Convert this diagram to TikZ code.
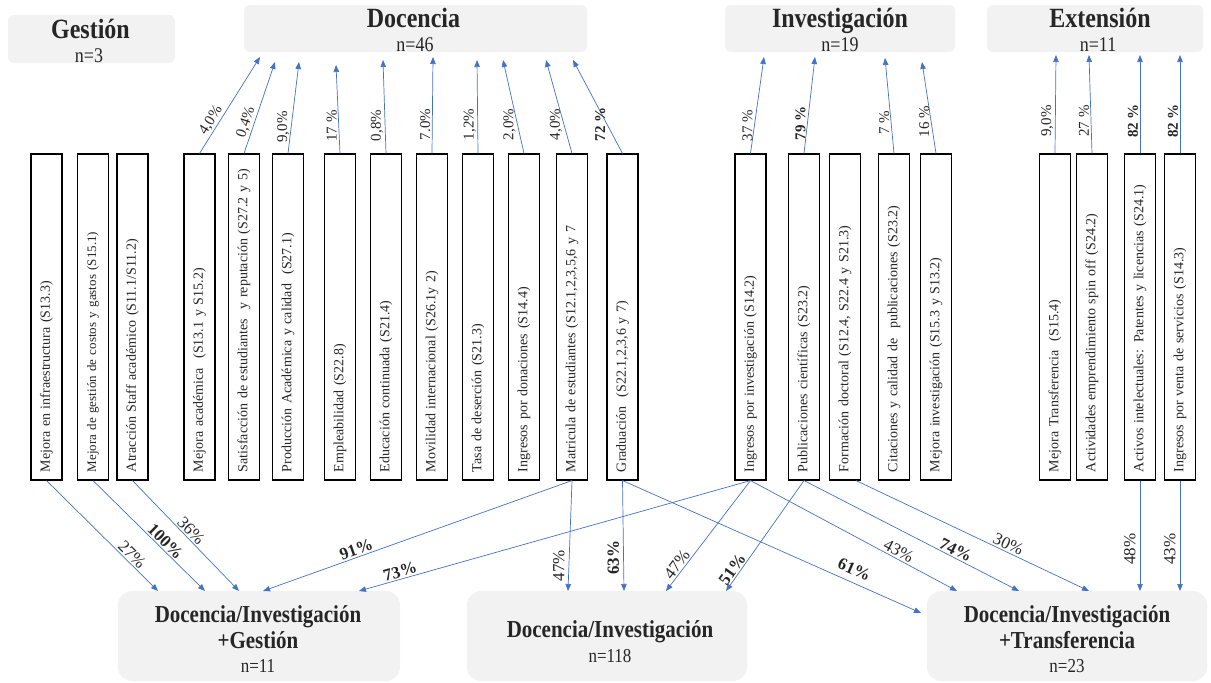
\documentclass[tikz,border=0pt]{standalone}
\usepackage{graphicx}
\usepackage{fontspec}
\setmainfont{Liberation Serif}
\usetikzlibrary{arrows.meta}
\definecolor{lnk}{HTML}{4472C4}
\definecolor{panel}{HTML}{F2F2F2}
\definecolor{ink}{HTML}{262626}
% taller lettering for the panel titles
\newcommand{\tall}[1]{\scalebox{1}[1.16]{#1}}

\begin{document}
\begin{tikzpicture}[x=1pt,y=-1pt,
  hdr/.style={fill=panel, rounded corners=6pt, inner sep=0pt},
  res/.style={fill=panel, rounded corners=14pt, inner sep=0pt, minimum width=280pt, minimum height=90pt},
  hdrtitle/.style={anchor=base, text=ink, font=\fontsize{24}{28}\selectfont\bfseries},
  hdrn/.style={anchor=base, text=ink, font=\fontsize{18}{20}\selectfont},
  restitle/.style={anchor=base, text=ink, font=\fontsize{21}{24}\selectfont\bfseries},
  resn/.style={anchor=base, text=ink, font=\fontsize{17}{20}\selectfont},
  ind/.style={draw=black, line width=1.1pt, rotate=90, minimum width=326pt, minimum height=31pt,
    inner sep=0pt, text width=310pt, align=left, text=ink, font=\fontsize{14}{16}\selectfont},
  arr/.style={draw=lnk, line width=0.7pt, -{Triangle[length=7pt,width=5.5pt]}},
  pctv/.style={font=\fontsize{15}{17}\selectfont, text=ink, rotate=90, anchor=south, inner sep=1.5pt},
  pcts/.style={font=\fontsize{15}{17}\selectfont, text=ink, sloped, above, inner sep=1.5pt},
  lows/.style={font=\fontsize{17}{19}\selectfont, text=ink, sloped, above, inner sep=1.5pt},
  lowv/.style={font=\fontsize{17}{19}\selectfont, text=ink, rotate=90, anchor=south, inner sep=4pt},
  hi/.style={font=\fontsize{17}{19}\selectfont\bfseries},
  hit/.style={font=\fontsize{15}{17}\selectfont\bfseries},
]
\useasboundingbox (0,0) rectangle (1211,683);

% ---- category panels (top) ----
\node[hdr, minimum width=167pt, minimum height=48pt] (gest) at (91.5,39) {};
\node[hdrtitle] (gestT) at (90.5,38) {\tall{Gestión}};
\node[hdrn] (gestN) at (89,62) {\tall{n=3}};

\node[hdr, minimum width=343pt, minimum height=47pt] (doc) at (415.5,28.5) {};
\node[hdrtitle] (docT) at (413.5,27) {\tall{Docencia}};
\node[hdrn] (docN) at (415,51) {\tall{n=46}};

\node[hdr, minimum width=230pt, minimum height=47pt] (inv) at (840,28.5) {};
\node[hdrtitle] (invT) at (840,27) {\tall{Investigación}};
\node[hdrn] (invN) at (840,51) {\tall{n=19}};

\node[hdr, minimum width=216pt, minimum height=47pt] (ext) at (1095,28.5) {};
\node[hdrtitle] (extT) at (1100,27) {\tall{Extensión}};
\node[hdrn] (extN) at (1098,51) {\tall{n=11}};

% ---- result panels (bottom) ----
\node[res, minimum width=282pt] (dg) at (259,636) {};
\node[restitle] (dgT1) at (258,622) {\tall{Docencia/Investigación}};
\node[restitle] (dgT2) at (258,648) {\tall{+Gestión}};
\node[resn] (dgN) at (258,672) {\tall{n=11}};

\node[res] (di) at (607,636) {};
\node[restitle] (diT) at (610,637) {\tall{Docencia/Investigación}};
\node[resn] (diN) at (610,662) {\tall{n=118}};

\node[res] (dt) at (1067,636) {};
\node[restitle] (dtT1) at (1067,622) {\tall{Docencia/Investigación}};
\node[restitle] (dtT2) at (1067,648) {\tall{+Transferencia}};
\node[resn] (dtN) at (1067,672) {\tall{n=23}};

% ---- indicator boxes ----
\node[ind] (b1) at (46.5,317) {Mejora en infraestructura (S13.3)};
\node[ind, font=\fontsize{13}{15}\selectfont] (b2) at (93,317) {Mejora de gestión de costos y gastos (S15.1)};
\node[ind] (b3) at (132.5,317) {Atracción Staff académico (S11.1/S11.2)};
\node[ind] (b4) at (199.5,317) {Mejora académica\ \ (S13.1 y S15.2)};
\node[ind] (b5) at (244,317) {Satisfacción de estudiantes\ \ y reputación (S27.2 y 5)};
\node[ind] (b6) at (288,317) {Producción Académica y calidad\ \ (S27.1)};
\node[ind] (b7) at (340,317) {Empleabilidad (S22.8)};
\node[ind] (b8) at (386,317) {Educación continuada (S21.4)};
\node[ind] (b9) at (432,317) {Movilidad internacional (S26.1y 2)};
\node[ind] (b10) at (478,317) {Tasa de deserción (S21.3)};
\node[ind] (b11) at (524,317) {Ingresos por donaciones (S14.4)};
\node[ind] (b12) at (572,317) {Matricula de estudiantes (S12.1,2,3,5,6 y 7};
\node[ind] (b13) at (622.5,317) {Graduación\ \ (S22.1,2,3,6 y 7)};
\node[ind] (b14) at (750.5,317) {Ingresos por investigación (S14.2)};
\node[ind] (b15) at (804,317) {Publicaciones científicas (S23.2)};
\node[ind] (b16) at (845,317) {Formación doctoral (S12.4, S22.4 y S21.3)};
\node[ind] (b17) at (894,317) {Citaciones y calidad de\ \ publicaciones (S23.2)};
\node[ind] (b18) at (936,317) {Mejora investigación (S15.3 y S13.2)};
\node[ind] (b19) at (1055,317) {Mejora Transferencia\ \ (S15.4)};
\node[ind] (b20) at (1092,317) {Actividades emprendimiento spin off (S24.2)};
\node[ind] (b21) at (1140,317) {Activos intelectuales: Patentes y licencias (S24.1)};
\node[ind] (b22) at (1180,317) {Ingresos por venta de servicios (S14.3)};

% ---- arrow ends under the category panels ----
\coordinate (t4) at (260,57);
\coordinate (t5) at (275,62);
\coordinate (t6) at (299,62);
\coordinate (t7) at (336,65);
\coordinate (t8) at (383,60);
\coordinate (t9) at (433,57);
\coordinate (t10) at (477,60);
\coordinate (t11) at (503,60);
\coordinate (t12) at (546,60);
\coordinate (t13) at (573,60);
\coordinate (t14) at (764,57);
\coordinate (t15) at (815,57);
\coordinate (t17) at (885,58);
\coordinate (t18) at (922,62);
\coordinate (t19) at (1056,55);
\coordinate (t20) at (1089,55);
\coordinate (t21) at (1140,55);
\coordinate (t22) at (1180,55);

% ---- arrow ends on the result panels ----
\coordinate (e1) at (158,591);
\coordinate (e2) at (205,591);
\coordinate (e3) at (239,591);
\coordinate (e4) at (263,591);
\coordinate (e5) at (359,591);
\coordinate (e6) at (568,591);
\coordinate (e7) at (624,591);
\coordinate (e8) at (666,591);
\coordinate (e9) at (726,591);
\coordinate (e10) at (921,613);
\coordinate (e11) at (957,591);
\coordinate (e12) at (1019,591);
\coordinate (e13) at (1089,591);
\coordinate (e14) at (1140,591);
\coordinate (e15) at (1180,591);

% ---- upward links ----
\draw[arr] (b4.east) -- node[pcts, pos=0.30] {4,0\%} (t4);
\draw[arr] (b5.east) -- node[pcts, pos=0.31] {0,4\%} (t5);
\draw[arr] (b6.east) -- node[pctv, pos=0.29] {9,0\%} (t6);
\draw[arr] (b7.east) -- node[pctv, pos=0.31] {17 \%} (t7);
\draw[arr] (b8.east) -- node[pctv, pos=0.30] {0,8\%} (t8);
\draw[arr] (b9.east) -- node[pctv, pos=0.30] {7.0\%} (t9);
\draw[arr] (b10.east) -- node[pctv, pos=0.31] {1,2\%} (t10);
\draw[arr] (b11.east) -- node[pctv, pos=0.31] {2,0\%} (t11);
\draw[arr] (b12.east) -- node[pctv, pos=0.31] {4,0\%} (t12);
\draw[arr] (b13.east) -- node[pctv, hit, pos=0.31] {72 \%} (t13);
\draw[arr] (b14.east) -- node[pctv, pos=0.29] {37 \%} (t14);
\draw[arr] (b15.east) -- node[pctv, hit, pos=0.31] {79 \%} (t15);
\draw[arr] (b17.east) -- node[pctv, pos=0.32] {7 \%} (t17);
\draw[arr] (b18.east) -- node[pctv, pos=0.35] {16 \%} (t18);
\draw[arr] (b19.east) -- node[pctv, pos=0.33] {9,0\%} (t19);
\draw[arr] (b20.east) -- node[pctv, pos=0.33] {27 \%} (t20);
\draw[arr] (b21.east) -- node[pctv, hit, pos=0.33] {82 \%} (t21);
\draw[arr] (b22.east) -- node[pctv, hit, pos=0.33] {82 \%} (t22);

% ---- downward links ----
\draw[arr] (b1.west) -- node[lows, pos=0.72] {27\%} (e1);
\draw[arr] (b2.west) -- node[lows, hi, pos=0.60] {100\%} (e2);
\draw[arr] (b3.west) -- node[lows, pos=0.50] {36\%} (e3);
\draw[arr] (b12.west) -- node[lows, hi, pos=0.69] {91\%} (e4);
\draw[arr] (b14.west) -- node[lows, hi, pos=0.89] {73\%} (e5);
\draw[arr] (b12.west) -- node[lowv, pos=0.77] {47\%} (e6);
\draw[arr] (b13.west) -- node[lowv, hi, pos=0.70] {63\%} (e7);
\draw[arr] (b14.west) -- node[lows, pos=0.80] {47\%} (e8);
\draw[arr] (b15.west) -- node[lows, hi, pos=0.84] {51\%} (e9);
\draw[arr] (b13.west) -- node[lows, hi, above=5pt, pos=0.76] {61\%} (e10);
\draw[arr] (b14.west) -- node[lows, pos=0.70] {43\%} (e11);
\draw[arr] (b15.west) -- node[lows, hi, pos=0.69] {74\%} (e12);
\draw[arr] ([xshift=11pt]b16.west) -- node[lows, pos=0.64] {30\%} (e13);
\draw[arr] (b21.west) -- node[lowv, pos=0.62] {48\%} (e14);
\draw[arr] (b22.west) -- node[lowv, pos=0.62] {43\%} (e15);
\end{tikzpicture}
\end{document}
